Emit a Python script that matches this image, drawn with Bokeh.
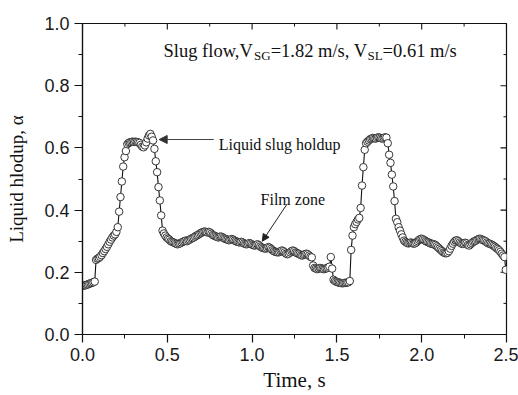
import numpy as np
from bokeh.plotting import figure
from bokeh.models import (SingleIntervalTicker, Range1d, Label, Arrow,
                          NormalHead, ColumnDataSource, NumeralTickFormatter)
from bokeh.embed import file_html
from bokeh.resources import INLINE

# ---------------- data ----------------
dt = 0.008  # sampling interval, s
holdup = [
    # 0.000 - 0.072
    0.158, 0.157, 0.158, 0.160, 0.161, 0.163, 0.165, 0.166, 0.168, 0.170,
    # 0.080 - 0.200
    0.240, 0.244, 0.246, 0.250, 0.255, 0.262, 0.268, 0.275, 0.282, 0.290,
    0.298, 0.305, 0.312, 0.318, 0.322, 0.330,
    # 0.208 - 0.256
    0.345, 0.395, 0.442, 0.492, 0.540, 0.570, 0.590,
    # 0.264 - 0.400
    0.612, 0.616, 0.618, 0.619, 0.620, 0.619, 0.620, 0.619, 0.618, 0.616,
    0.610, 0.604, 0.602, 0.608, 0.618, 0.630, 0.640, 0.645,
    # 0.408 - 0.472
    0.636, 0.624, 0.597, 0.557, 0.522, 0.474, 0.431, 0.383, 0.334,
    # 0.480 - 0.792
    0.325, 0.318, 0.312, 0.308, 0.305, 0.300, 0.298, 0.296, 0.294, 0.292,
    0.290, 0.292, 0.293, 0.296, 0.298, 0.300, 0.302, 0.300, 0.303, 0.305,
    0.308, 0.310, 0.312, 0.315, 0.318, 0.320, 0.323, 0.326, 0.328, 0.330,
    0.331, 0.330, 0.328, 0.330, 0.328, 0.324, 0.320, 0.318, 0.316, 0.314,
    # 0.800 - 1.352
    0.312, 0.314, 0.315, 0.313, 0.310, 0.308, 0.306, 0.305, 0.303, 0.305,
    0.307, 0.305, 0.302, 0.300, 0.298, 0.297, 0.296, 0.298, 0.296, 0.293,
    0.291, 0.290, 0.292, 0.294, 0.292, 0.289, 0.287, 0.286, 0.288, 0.290,
    0.287, 0.283, 0.280, 0.278, 0.277, 0.276, 0.278, 0.281, 0.279, 0.275,
    0.271, 0.268, 0.266, 0.265, 0.264, 0.265, 0.268, 0.270, 0.268, 0.264,
    0.260, 0.258, 0.260, 0.264, 0.268, 0.270, 0.268, 0.264, 0.262, 0.260,
    0.258, 0.255, 0.254, 0.256, 0.258, 0.260, 0.258, 0.254, 0.250, 0.248,
    # 1.360 - 1.472
    0.222, 0.214, 0.212, 0.210, 0.212, 0.214, 0.213, 0.211, 0.210, 0.212,
    0.213, 0.215, 0.218, 0.249, 0.212,
    # 1.480 - 1.576
    0.176, 0.172, 0.170, 0.168, 0.167, 0.166, 0.165, 0.165, 0.166, 0.166,
    0.167, 0.168, 0.172,
    # 1.584 - 1.664
    0.272, 0.318, 0.345, 0.355, 0.362, 0.370, 0.375, 0.407, 0.479, 0.538, 0.594,
    # 1.672 - 1.792
    0.615, 0.620, 0.624, 0.628, 0.630, 0.632, 0.631, 0.630, 0.632, 0.634,
    0.633, 0.631, 0.630, 0.632, 0.634, 0.633,
    # 1.800 - 1.896
    0.615, 0.578, 0.552, 0.514, 0.476, 0.429, 0.372, 0.361, 0.345, 0.334,
    0.322, 0.312, 0.302,
    # 1.904 - 2.488
    0.298, 0.295, 0.293, 0.294, 0.296, 0.294, 0.292, 0.293, 0.296, 0.300,
    0.304, 0.307, 0.308, 0.306, 0.303, 0.300, 0.298, 0.296, 0.294, 0.292,
    0.291, 0.290, 0.288, 0.284, 0.280, 0.276, 0.272, 0.268, 0.264, 0.262,
    0.261, 0.263, 0.268, 0.276, 0.285, 0.292, 0.298, 0.302, 0.303, 0.300,
    0.296, 0.293, 0.291, 0.292, 0.295, 0.293, 0.288, 0.286, 0.290, 0.294,
    0.298, 0.300, 0.302, 0.305, 0.307, 0.308, 0.306, 0.304, 0.302, 0.300,
    0.296, 0.293, 0.292, 0.290, 0.288, 0.285, 0.282, 0.278, 0.275, 0.271,
    0.266, 0.260, 0.254, 0.249,
    # 2.496
    0.208,
]
time = np.round(np.arange(len(holdup)) * dt, 3)

x_ticks = [0.0, 0.5, 1.0, 1.5, 2.0, 2.5]
x_minor = [0.25, 0.75, 1.25, 1.75, 2.25]
y_ticks = [0.0, 0.2, 0.4, 0.6, 0.8, 1.0]
y_minor = [0.1, 0.3, 0.5, 0.7, 0.9]

x_label = "Time, s"
y_label = "Liquid hlodup, \u03b1"
note_slug = "Liquid slug holdup"
note_film = "Film zone"
title_parts = [("Slug flow,V", False), ("SG", True), ("=1.82 m/s, V", False),
               ("SL", True), ("=0.61 m/s", False)]

# ---------------- figure ----------------
W, H = 518, 395
L, R, T, B = 82, 12, 23, 61
p = figure(width=W, height=H, x_range=Range1d(0, 2.5), y_range=Range1d(0, 1.0),
           output_backend="svg", toolbar_location=None,
           min_border_left=L, min_border_right=R, min_border_top=T, min_border_bottom=B)
p.grid.visible = False
p.outline_line_color = "#111111"
p.outline_line_width = 1.2
p.background_fill_color = "white"
p.border_fill_color = "white"

SANS = "Liberation Sans"
SERIF = "Liberation Serif"

xa = p.xaxis[0]
xa.ticker = SingleIntervalTicker(interval=0.5, num_minor_ticks=2)
xa.formatter = NumeralTickFormatter(format="0.0")
ya = p.yaxis[0]
ya.ticker = SingleIntervalTicker(interval=0.2, num_minor_ticks=2)
ya.formatter = NumeralTickFormatter(format="0.0")
for ax, lab, fs, st in ((xa, x_label, "21px", 4), (ya, y_label, "19px", 14)):
    ax.axis_label = lab
    ax.axis_label_text_font = SERIF
    ax.axis_label_text_font_style = "normal"
    ax.axis_label_text_font_size = fs
    ax.axis_label_text_color = "#111111"
    ax.axis_label_standoff = st
    ax.major_label_text_font = SANS
    ax.major_label_text_font_size = "18px"
    ax.major_label_text_color = "#1a1a1a"
    ax.axis_line_color = "#111111"
    ax.axis_line_width = 1.2
    ax.major_tick_line_color = "#111111"
    ax.minor_tick_line_color = "#111111"
    ax.major_tick_line_width = 1.2
    ax.minor_tick_line_width = 1.0
    ax.major_tick_in = 0
    ax.major_tick_out = 8
    ax.minor_tick_in = 0
    ax.minor_tick_out = 4
xa.major_label_standoff = 5
ya.major_label_standoff = 5

# inward ticks on the right and top frame edges (lengths in screen pixels)
p.ray(x=[2.5] * len(y_ticks), y=y_ticks, length=6, length_units="screen",
      angle=np.pi, line_color="#111111", line_width=1.1)
p.ray(x=[2.5] * len(y_minor), y=y_minor, length=3, length_units="screen",
      angle=np.pi, line_color="#111111", line_width=1.0)
p.ray(x=x_ticks, y=[1.0] * len(x_ticks), length=6, length_units="screen",
      angle=-np.pi / 2, line_color="#111111", line_width=1.1)
p.ray(x=x_minor, y=[1.0] * len(x_minor), length=3, length_units="screen",
      angle=-np.pi / 2, line_color="#111111", line_width=1.0)

src = ColumnDataSource(dict(t=time, a=holdup))
p.line("t", "a", source=src, line_color="#111111", line_width=1.1)
p.scatter("t", "a", source=src, marker="circle", size=7.5, fill_color="white",
          line_color="#222222", line_width=0.9)

# ---------------- annotations ----------------
fw = W - L - R
fh = H - T - B


def dx(px):
    return px / fw * 2.5


def dy(px):
    return px / fh * 1.0


# advance widths of Times-like glyphs (per 1000 em)
TW = {'S': 556, 'l': 278, 'u': 500, 'g': 500, ' ': 250, 'f': 333, 'o': 500, 'w': 722,
      ',': 250, 'V': 722, 'G': 722, 'L': 611, '=': 564, '1': 500, '.': 250, '8': 500,
      '2': 500, 'm': 778, '/': 278, 's': 389, '0': 500, '6': 500}
F_MAIN, F_SUB = 18.5, 13.0
x0 = 0.478
ybase = 0.910
for txt, sub in title_parts:
    fs = F_SUB if sub else F_MAIN
    p.add_layout(Label(x=x0, y=ybase - (dy(4) if sub else 0), text=txt,
                       text_font=SERIF, text_font_size=f"{fs}px", text_color="#111111",
                       text_baseline="alphabetic", text_align="left"))
    x0 += dx(sum(TW.get(c, 500) for c in txt) / 1000 * fs)

p.add_layout(Label(x=0.803, y=0.6125, text=note_slug, text_font=SERIF,
                   text_font_size="16px", text_color="#111111", text_baseline="alphabetic"))
p.add_layout(Arrow(end=NormalHead(size=8, fill_color="#333333", line_color="#333333"),
                   x_start=0.774, y_start=0.627, x_end=0.452, y_end=0.627,
                   line_color="#444444", line_width=1.2))

p.add_layout(Label(x=1.05, y=0.434, text=note_film, text_font=SERIF,
                   text_font_size="16px", text_color="#111111", text_baseline="alphabetic"))
p.add_layout(Arrow(end=NormalHead(size=7, fill_color="#222222", line_color="#222222"),
                   x_start=1.207, y_start=0.420, x_end=1.060, y_end=0.300,
                   line_color="#222222", line_width=1.0))

open("out.html", "w").write(file_html(p, INLINE))
